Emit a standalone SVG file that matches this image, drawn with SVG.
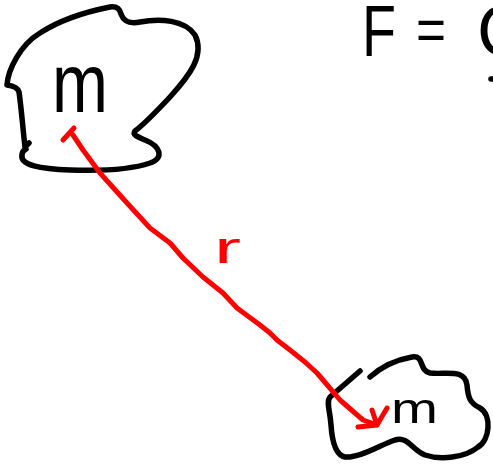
<svg xmlns="http://www.w3.org/2000/svg" width="493" height="464" viewBox="0 0 493 464">
<style>
.ink{fill:none;stroke:#000;stroke-width:5.5;stroke-linecap:round;stroke-linejoin:round}
.red{fill:none;stroke:#ff0000;stroke-width:5;stroke-linecap:round;stroke-linejoin:round}
.t{font-family:"Liberation Sans","DejaVu Sans",sans-serif;fill:#000}
.tr{font-family:"Liberation Sans","DejaVu Sans",sans-serif;fill:#ff0000}
</style>
<rect width="493" height="464" fill="#fff"/>
<g id="formula">
<text class="t" font-size="72" x="362" y="56" textLength="34" lengthAdjust="spacingAndGlyphs">F</text>
<text class="t" font-size="60" x="416" y="50" textLength="30" lengthAdjust="spacingAndGlyphs">=</text>
<text class="t" font-size="72" x="477" y="56">G</text>
<path class="ink" d="M 491,79 L 494,79"/>
</g>
<g id="mass1">
<path class="ink" d="M 29,143 L 25,147 C 23,130 21,105 19,92 C 18,88 14,86 7,85 C 8,70 20,45 40,33 C 60,20 85,12 110,7 C 118,6 120,10 121,14 C 124,22 130,24 140,22 C 160,18 185,20 195,35 C 205,55 190,75 170,97 C 155,113 143,125 135,131 C 132,135 138,137 145,140 C 160,146 165,158 150,163 C 130,170 100,171 70,170 C 40,169 20,165 22,155 C 22,152 24,150 26,149"/>
<text class="t" font-size="84" x="52" y="112" textLength="56" lengthAdjust="spacingAndGlyphs">m</text>
</g>
<g id="mass2">
<path class="ink" d="M 370,377 C 380,368 395,360 412,357 C 425,355 418,370 430,373 C 445,375 465,368 467,385 C 468,398 470,403 480,408 C 492,415 490,440 478,447 C 465,458 440,460 425,455 C 412,450 408,436 395,440 C 380,445 360,458 345,457 C 335,455 332,440 331,425 C 330,410 326,402 330,397 L 360,371"/>
<text class="t" font-size="42" x="391" y="423" textLength="47" lengthAdjust="spacingAndGlyphs">m</text>
</g>
<g id="connectors">
<path class="red" d="M 63,140 L 74,128 M 73,135 L 83,150 L 100,173 L 127,203 L 150,228 L 170,243 L 183,258 L 203,277 L 223,293 L 237,308 L 260,325 L 270,333 L 277,340 L 290,350 L 305,362 L 317,373 L 323,380 L 340,400 L 363,420 L 377,425"/>
<path class="red" d="M 372,410 L 377,425 L 358,427 M 377,425 L 387,408"/>
<text class="tr" font-size="44" x="214" y="263" textLength="27" lengthAdjust="spacingAndGlyphs">r</text>
</g>
</svg>
